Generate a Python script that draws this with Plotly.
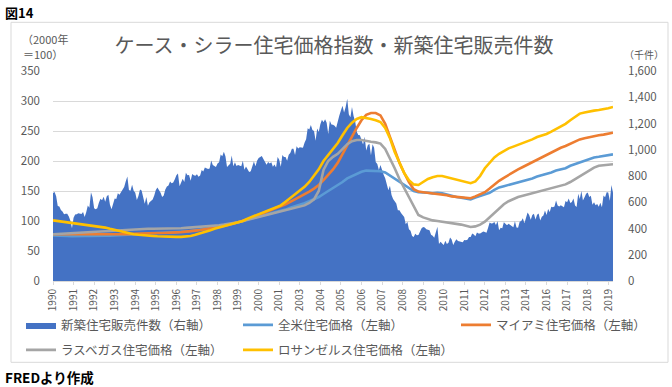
import plotly.graph_objects as go

# ---------------- data ----------------
months = [f"{y}-{m:02d}" for y in range(1990, 2020) for m in range(1, 13)][:355]  # 1990-01 .. 2019-07
quarters = months[::3]

year_labels = ["1990", "1991", "1992", "1993", "1994", "1995", "1996", "1997", "1998", "1999",
               "2000", "2001", "2003", "2004", "2005", "2006", "2007", "2008", "2009", "2010",
               "2011", "2012", "2013", "2014", "2016", "2017", "2018", "2019"]

# New home sales (thousand, right axis), monthly
sales_k = [
    671, 678, 645, 571, 568, 541, 530, 509, 513, 512, 491, 459,
    401, 482, 507, 508, 517, 516, 511, 526, 487, 524, 575, 558,
    676, 639, 554, 546, 554, 596, 627, 615, 641, 604, 646, 658,
    581, 546, 584, 629, 625, 669, 657, 675, 694, 717, 760, 796,
    693, 687, 733, 688, 673, 618, 648, 698, 690, 644, 589, 640,
    573, 600, 608, 621, 651, 694, 713, 697, 672, 640, 651, 697,
    720, 728, 758, 744, 750, 776, 806, 819, 721, 751, 779, 755,
    825, 805, 807, 763, 816, 805, 802, 814, 795, 803, 846, 835,
    865, 859, 854, 857, 918, 883, 875, 868, 895, 904, 964, 950,
    984, 951, 868, 886, 894, 957, 875, 905, 877, 883, 878, 875,
    917, 848, 872, 850, 830, 837, 869, 910, 874, 917, 938, 943,
    953, 930, 911, 885, 907, 896, 904, 871, 887, 865, 944, 924,
    871, 960, 944, 945, 917, 962, 976, 1007, 1008, 960, 1026, 1009,
    1019, 1020, 1016, 1053, 1080, 1163, 1154, 1188, 1151, 1143, 1069, 1162,
    1135, 1195, 1228, 1209, 1233, 1206, 1120, 1221, 1193, 1191, 1183, 1168,
    1224, 1261, 1299, 1336, 1283, 1325, 1389, 1270, 1247, 1326, 1257, 1217,
    1138, 1113, 1110, 1066, 1040, 1100, 995, 1035, 1045, 958, 1041, 1015,
    906, 892, 846, 883, 840, 809, 783, 724, 692, 726, 656, 625,
    607, 590, 540, 540, 519, 505, 487, 432, 451, 395, 383, 342,
    336, 360, 348, 350, 378, 401, 412, 408, 395, 392, 386, 352,
    345, 329, 382, 414, 282, 300, 285, 275, 306, 281, 291, 331,
    317, 274, 299, 319, 305, 302, 298, 296, 313, 310, 314, 336,
    336, 361, 355, 341, 369, 361, 361, 372, 377, 374, 367, 403,
    445, 438, 440, 449, 426, 456, 387, 406, 402, 448, 439, 425,
    436, 426, 417, 409, 456, 408, 405, 451, 457, 478, 440, 485,
    521, 503, 467, 502, 513, 468, 504, 515, 461, 489, 500, 538,
    502, 549, 526, 565, 562, 568, 614, 575, 568, 578, 568, 562,
    610, 600, 629, 594, 601, 629, 576, 564, 665, 624, 686, 614,
    638, 665, 674, 640, 650, 581, 600, 577, 587, 566, 597, 561,
    651, 639, 676, 674, 611, 732, 673,
]

# Case-Shiller indices (2000=100, left axis), quarterly (Jan/Apr/Jul/Oct)
us_index = [
    76, 76, 75.5, 75, 74.5, 75, 75, 75, 75, 75.5, 75.5, 75.5,
    75.5, 76, 76.5, 77, 77.5, 78, 78.5, 79, 79, 79.5, 80, 80,
    80.5, 81, 81.5, 82, 82, 83, 84, 85, 86, 87.5, 89, 90,
    91.5, 93.5, 95.5, 97.5, 100, 103, 105, 107, 109, 111, 113, 114.5,
    116, 119, 122, 124.5, 126.5, 129.5, 133, 136, 140, 145, 150, 154,
    159, 165, 171, 175, 178, 182, 184, 184, 183, 183, 181, 176,
    170, 165, 160, 155, 150, 148, 148, 147, 146, 147, 146, 144,
    141, 140, 139, 137, 136, 139, 142, 144, 147, 152, 156, 158,
    160, 162.5, 164, 166, 168, 171, 174, 176, 178, 181, 184, 186,
    188, 192, 195, 198, 200, 204, 206, 207, 208, 210, 211,
]
miami_index = [
    78, 78, 77.5, 77, 77, 77, 77, 77, 77, 77, 77, 77,
    77, 77.5, 78, 78, 78, 78.5, 79, 79, 79, 79.5, 80, 80,
    80, 80.5, 81, 81.5, 82, 83, 84, 85, 86, 87.5, 89, 90.5,
    92, 94, 96, 98, 100, 103, 106, 109, 112, 115, 118, 121,
    124, 128, 132, 136, 140, 144, 149, 154, 160, 168, 177, 186,
    197, 212, 226, 240, 255, 268, 277, 280, 280, 276, 262, 240,
    218, 197, 180, 165, 153, 149, 148, 147, 147, 146, 144, 143,
    141, 140, 139, 138, 138, 141, 144, 148, 154, 161, 167, 172,
    177, 182, 186, 190, 194, 199, 203, 207, 211, 215, 219, 222,
    225, 229, 233, 236, 238, 240, 242, 243, 244, 246, 247,
]
lasvegas_index = [
    78, 78.5, 79, 79.5, 80, 80.5, 81, 81.5, 82, 82.5, 83, 83,
    83.5, 84, 84.5, 85, 85.5, 86, 86.5, 87, 87, 87, 87, 87,
    87, 87.5, 88, 88, 88.5, 89, 89.5, 90, 90.5, 91, 92, 93,
    94, 95, 96.5, 98, 100, 102, 104, 106, 108, 110, 112, 113,
    115, 117, 119, 121, 123, 126, 130, 136, 150, 185, 200, 207,
    212, 220, 228, 233, 235, 235, 233, 232, 231, 229, 220, 205,
    188, 170, 155, 138, 123, 110, 106, 103, 101, 100, 99, 97,
    96, 95, 94, 92, 90, 91, 94, 99, 106, 114, 121, 128,
    133, 137, 140, 142, 144, 146, 148, 150, 152, 154, 156, 158,
    161, 165, 170, 175, 180, 185, 189, 192, 193, 194, 194.5,
]
losangeles_index = [
    101, 100, 99, 97.5, 96, 95.5, 95, 94, 93, 92, 91, 89,
    87, 85, 83, 81, 79, 78, 77, 76, 75.5, 75, 74.5, 74,
    73.5, 73.5, 73.5, 73.5, 74, 75, 77, 79, 81, 84, 87, 89,
    91, 93, 95, 97, 100, 104, 107, 110, 113, 116, 119, 122,
    126, 132, 138, 144, 150, 157, 165, 175, 186, 200, 210, 220,
    230, 243, 255, 264, 270, 273, 272, 270, 268, 265, 255, 238,
    215, 196, 180, 168, 161, 160, 165, 170, 173, 175, 175, 173,
    171, 169, 167, 165, 163, 166, 175, 188, 198, 206, 212, 217,
    221, 224, 227, 229, 232, 236, 240, 242, 245, 249, 253, 257,
    262, 268, 274, 279, 281, 283, 284, 285, 286, 288, 290,
]

series_names = ["新築住宅販売件数（右軸）", "全米住宅価格（左軸）", "マイアミ住宅価格（左軸）",
                "ラスベガス住宅価格（左軸）", "ロサンゼルス住宅価格（左軸）"]
series_colors = ["#4472C4", "#5B9BD5", "#ED7D31", "#A5A5A5", "#FFC000"]

# ---------------- layout helpers ----------------
W, H = 672, 387
PL, PR, PT, PB = 53, 613, 70.7, 280.7


def fx(px):
    return (px - PL) / (PR - PL)


def fy(py):
    return (PB - py) / (PB - PT)


JP = "Noto Sans CJK JP"
GRAY = "#595959"
GRID = "#D9D9D9"

fig = go.Figure()
fig.add_trace(go.Scatter(
    x=months, y=sales_k, name=series_names[0], mode="lines",
    line=dict(width=0, color=series_colors[0]), fill="tozeroy",
    fillcolor=series_colors[0], yaxis="y", legend="legend", hoverinfo="skip"))

price_series = [us_index, miami_index, lasvegas_index, losangeles_index]
legend_ids = ["legend", "legend2", "legend3", "legend3"]
for i, vals in enumerate(price_series):
    fig.add_trace(go.Scatter(
        x=quarters, y=vals, name=series_names[i + 1], mode="lines",
        line=dict(width=2.6, color=series_colors[i + 1]),
        yaxis="y2", legend=legend_ids[i]))

legend_font = dict(family=JP, size=12.5, color=GRAY)
common_leg = dict(orientation="h", xanchor="left", yanchor="top", font=legend_font,
                  bgcolor="rgba(0,0,0,0)", itemwidth=30, tracegroupgap=0)

fig.update_layout(
    width=W, height=H,
    template="none",
    paper_bgcolor="white", plot_bgcolor="white",
    margin=dict(l=PL, r=W - PR, t=PT, b=H - PB, pad=0),
    font=dict(family=JP, color=GRAY),
    title=dict(text="ケース・シラー住宅価格指数・新築住宅販売件数",
               x=0.497, xref="container", xanchor="center",
               y=1 - 45.5 / H, yref="container", yanchor="middle",
               font=dict(family=JP, size=20, color=GRAY)),
    xaxis=dict(type="category", range=[0, len(months) - 1], tickmode="array",
               tickvals=months[::13], ticktext=year_labels, tickangle=-90,
               ticks="outside", ticklen=3, tickcolor=GRID, showline=True,
               linecolor=GRID, linewidth=1, showgrid=False, zeroline=False,
               tickfont=dict(family=JP, size=10, color=GRAY), automargin=False),
    yaxis=dict(side="right", range=[0, 1600], dtick=200, tickformat=",",
               showgrid=False, zeroline=False, showline=False, ticks="",
               tickfont=dict(family=JP, size=11.5, color=GRAY),
               ticklabelstandoff=14, automargin=False),
    yaxis2=dict(overlaying="y", anchor="x", side="left", range=[0, 350], dtick=50,
                showgrid=True, gridcolor=GRID, gridwidth=1, zeroline=False,
                showline=False, ticks="",
                tickfont=dict(family=JP, size=11.5, color=GRAY),
                ticklabelstandoff=12, automargin=False),
    legend=dict(common_leg, x=fx(21), y=fy(310), entrywidth=172, entrywidthmode="pixels"),
    legend2=dict(common_leg, x=fx(456), y=fy(310)),
    legend3=dict(common_leg, x=fx(21), y=fy(335), entrywidth=172, entrywidthmode="pixels"),
    shapes=[dict(type="rect", xref="paper", yref="paper", x0=fx(11), x1=fx(668),
                 y0=fy(362), y1=fy(22), line=dict(color=GRID, width=1), layer="below")],
    annotations=[
        dict(text="（2000年", x=fx(20), y=fy(39), xref="paper", yref="paper",
             xanchor="left", yanchor="middle", showarrow=False,
             font=dict(family=JP, size=11, color=GRAY)),
        dict(text="＝100）", x=fx(21), y=fy(53.5), xref="paper", yref="paper",
             xanchor="left", yanchor="middle", showarrow=False,
             font=dict(family=JP, size=11, color=GRAY)),
        dict(text="（千件）", x=fx(622), y=fy(54), xref="paper", yref="paper",
             xanchor="left", yanchor="middle", showarrow=False,
             font=dict(family=JP, size=10, color=GRAY)),
        dict(text="<b>図14</b>", x=fx(3), y=fy(12), xref="paper", yref="paper",
             xanchor="left", yanchor="middle", showarrow=False,
             font=dict(family=JP, size=13, color="#000000")),
        dict(text="<b>FREDより作成</b>", x=fx(3), y=fy(377), xref="paper", yref="paper",
             xanchor="left", yanchor="middle", showarrow=False,
             font=dict(family=JP, size=13.5, color="#000000")),
    ],
)

# remove the browser's default 8px body margin so the figure sits at the page origin
fig.write_html("out.html", config={"displayModeBar": False},
               post_script="document.body.style.margin='0';")
